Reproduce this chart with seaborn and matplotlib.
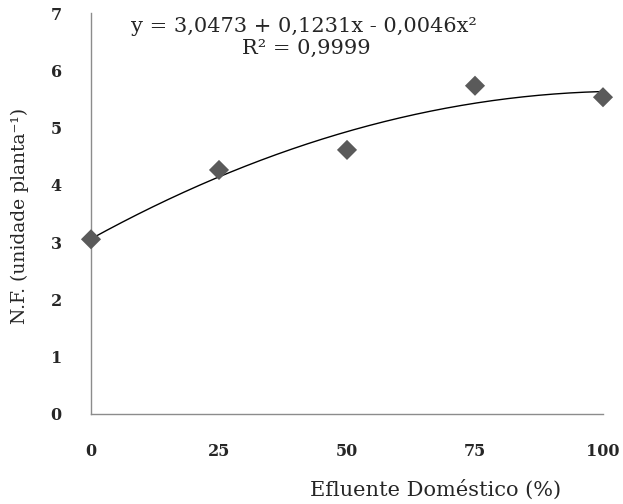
import numpy as np
import pandas as pd
import matplotlib
matplotlib.use("Agg")
import matplotlib.pyplot as plt
import seaborn as sns

# Data
efluente = [0, 25, 50, 75, 100]
nf = [3.05, 4.26, 4.61, 5.73, 5.53]
x_ticks = [0, 25, 50, 75, 100]
y_ticks = [0, 1, 2, 3, 4, 5, 6, 7]
equation = "y = 3,0473 + 0,1231x - 0,0046x²"
r2_text = "R² = 0,9999"
x_label = "Efluente Doméstico (%)"
y_label = "N.F. (unidade planta⁻¹)"

sns.set_style("white")
plt.rcParams["font.family"] = ["DejaVu Serif", "DejaVu Sans"]

df = pd.DataFrame({"x": efluente, "y": nf})
coef = np.polyfit(df["x"], df["y"], 2)
xs = np.linspace(0, 100, 200)
fit = pd.DataFrame({"x": xs, "y": np.polyval(coef, xs)})

fig = plt.figure(figsize=(6.23, 5.04), dpi=100)
ax = fig.add_axes([91 / 623, 1 - 414 / 504, (603 - 91) / 623, (414 - 13) / 504])

sns.lineplot(data=fit, x="x", y="y", ax=ax, color="black", lw=1.0)
sns.scatterplot(data=df, x="x", y="y", ax=ax, marker="D", s=105,
                color="#5a5a5a", edgecolor="none", zorder=3, clip_on=False)

ax.set_xlim(0, 100)
ax.set_ylim(0, 7)
ax.set_xticks(x_ticks)
ax.set_yticks(y_ticks)
ax.tick_params(axis="both", length=0, labelsize=11.5)
ax.tick_params(axis="x", pad=21)
ax.tick_params(axis="y", pad=21)
for lab in ax.get_xticklabels() + ax.get_yticklabels():
    lab.set_fontweight("bold")

for s in ["top", "right"]:
    ax.spines[s].set_visible(False)
for s in ["left", "bottom"]:
    ax.spines[s].set_color("#8c8c8c")
    ax.spines[s].set_linewidth(1.0)

ax.set_xlabel(x_label, fontsize=15)
ax.set_ylabel(y_label, fontsize=13.5)
ax.xaxis.set_label_coords(345 / 512, -(490 - 414) / 401)
ax.yaxis.set_label_coords(-(91 - 20) / 512, (414 - 216) / 401)
ax.xaxis.label.set_va("center")
ax.yaxis.label.set_va("center")

fig.text(304 / 623, 1 - 26 / 504, equation, ha="center", va="center", fontsize=15)
fig.text(306 / 623, 1 - 48 / 504, r2_text, ha="center", va="center", fontsize=15)

fig.savefig("out.png", dpi=100)
